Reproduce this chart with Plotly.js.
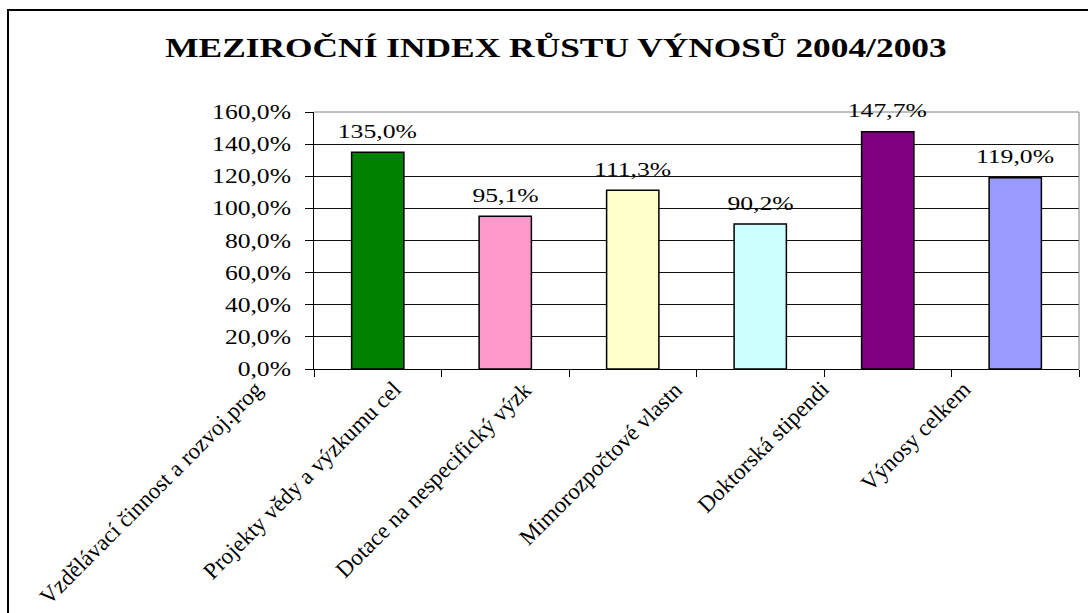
<!DOCTYPE html>
<html>
<head>
<meta charset="utf-8">
<script src="https://cdn.plot.ly/plotly-3.0.1.min.js"></script>
<style>
  html, body { margin: 0; padding: 0; background: #fff; }
  #wrap { position: relative; width: 1088px; height: 613px; }
  #chart { width: 1088px; height: 613px; }
  #frame { position: absolute; left: 7px; top: 9px; right: 0; bottom: 0;
           border-left: 2px solid #000; border-top: 2px solid #000; pointer-events: none; }
</style>
</head>
<body>
<div id="wrap"><div id="chart"></div><div id="frame"></div></div>
<script>
// ---- data ----
const chartTitle = 'MEZIROČNÍ INDEX RŮSTU VÝNOSŮ 2004/2003';
const categories = [
  'Vzdělávací činnost a rozvoj.prog',
  'Projekty vědy a výzkumu cel',
  'Dotace na nespecifický výzk',
  'Mimorozpočtové vlastn',
  'Doktorská stipendi',
  'Výnosy celkem'
];
const values = [135.0, 95.1, 111.3, 90.2, 147.7, 119.0];
const yTickVals = [0, 20, 40, 60, 80, 100, 120, 140, 160];

// ---- styles ----
const barColors = ['#008000', '#FF99CC', '#FFFFCC', '#CCFFFF', '#800080', '#9999FF'];
const catLabelShiftX = [-108, -97, -93, -70, -52, -37];
const FONT = '"Liberation Serif", "Times New Roman", serif';

function fmt(v) { return v.toFixed(1).replace('.', ',') + '%'; }

const trace = {
  type: 'bar',
  x: categories,
  y: values,
  marker: { color: barColors, line: { color: '#000', width: 1.5 } },
  hoverinfo: 'skip'
};

const annotations = [];
categories.forEach((c, i) => {
  annotations.push({
    x: c, y: values[i], xref: 'x', yref: 'y',
    text: fmt(values[i]), showarrow: false,
    xanchor: 'center', yanchor: 'middle', yshift: 21,
    font: { family: FONT, size: 19, color: '#000' }
  });
});
categories.forEach((c, i) => {
  annotations.push({
    x: c, y: 0, xref: 'x', yref: 'y',
    text: c, showarrow: false, textangle: -45,
    xanchor: 'right', yanchor: 'top',
    xshift: catLabelShiftX[i], yshift: -5,
    font: { family: FONT, size: 23, color: '#000' }
  });
});

const layout = {
  width: 1088, height: 613,
  paper_bgcolor: '#fff', plot_bgcolor: '#fff',
  margin: { l: 314, r: 9, t: 112, b: 244, pad: 0 },
  separators: ',.',
  showlegend: false,
  bargap: 0.59,
  title: {
    text: chartTitle,
    xref: 'container', yref: 'container',
    x: 0.511, xanchor: 'center', y: 0.923, yanchor: 'middle',
    font: { family: FONT, size: 27, color: '#000', weight: 'bold' }
  },
  xaxis: {
    type: 'category',
    range: [-0.5, categories.length - 0.5],
    showticklabels: false,
    ticks: 'outside', tickson: 'boundaries', ticklen: 7, tickwidth: 1, tickcolor: '#000',
    showline: true, linecolor: '#000', linewidth: 1,
    showgrid: false, zeroline: false, fixedrange: true
  },
  yaxis: {
    range: [0, 160],
    tickvals: yTickVals,
    ticktext: yTickVals.map(v => fmt(v)),
    ticks: 'outside', ticklen: 8, tickwidth: 1, tickcolor: '#000',
    ticklabelstandoff: 10,
    tickfont: { family: FONT, size: 20, color: '#000' },
    showline: true, linecolor: '#000', linewidth: 1,
    showgrid: true, gridcolor: '#111', gridwidth: 1,
    zeroline: false, fixedrange: true
  },
  shapes: [
    { type: 'line', xref: 'paper', yref: 'paper', x0: 0, x1: 1, y0: 1, y1: 1, line: { color: '#808080', width: 1 } },
    { type: 'line', xref: 'paper', yref: 'paper', x0: 1, x1: 1, y0: 0, y1: 1, line: { color: '#808080', width: 1 } }
  ],
  annotations: annotations
};

function stretch(el, k) {
  if (!el || !el.getComputedTextLength) return;
  const L = el.getComputedTextLength();
  if (L > 0) {
    el.setAttribute('textLength', (L * k).toFixed(1));
    el.setAttribute('lengthAdjust', 'spacingAndGlyphs');
  }
}

Plotly.newPlot('chart', [trace], layout, { displayModeBar: false, staticPlot: true }).then(gd => {
  gd.querySelectorAll('.gtitle').forEach(t => stretch(t, 1.31));
  gd.querySelectorAll('.ytick text').forEach(t => stretch(t, 1.28));
  for (let i = 0; i < categories.length; i++) {
    const t = gd.querySelector('.annotation[data-index="' + i + '"] text');
    stretch(t, 1.35);
  }
});
</script>
</body>
</html>
